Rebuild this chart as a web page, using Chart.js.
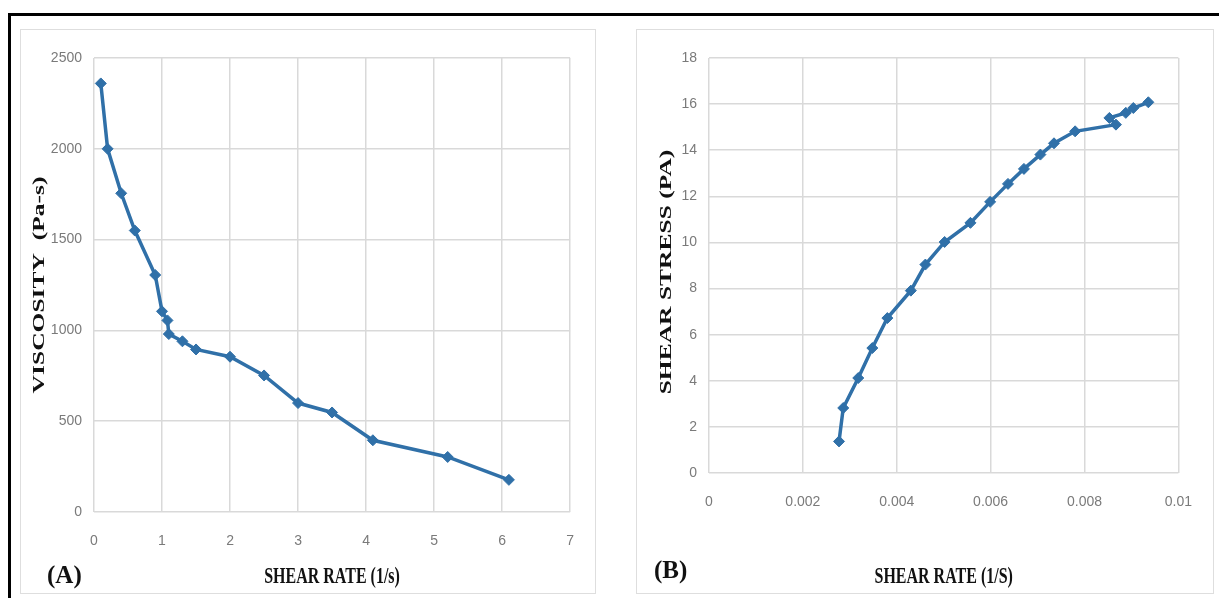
<!DOCTYPE html>
<html>
<head>
<meta charset="utf-8">
<script src="https://cdn.jsdelivr.net/npm/chart.js@4.4.1/dist/chart.umd.min.js"></script>
<style>
  html, body { margin: 0; padding: 0; background: #fff; }
  body { width: 1219px; height: 598px; position: relative; overflow: hidden; }
  .frame-top { position: absolute; left: 8px; top: 13px; width: 1211px; height: 3px; background: #000; }
  .frame-left { position: absolute; left: 8px; top: 13px; width: 3px; height: 585px; background: #000; }
  .panel { position: absolute; top: 29px; height: 565px; border: 1px solid #dedede; box-sizing: border-box; }
  canvas { position: absolute; top: 29px; }
</style>
</head>
<body>
<div class="frame-top"></div>
<div class="frame-left"></div>
<div class="panel" style="left:20px;width:576px"></div>
<div class="panel" style="left:636px;width:578px"></div>
<canvas id="chartA" width="575" height="564" style="left:20px"></canvas>
<canvas id="chartB" width="577" height="564" style="left:636px"></canvas>
<script>
// (A) viscosity vs shear rate
const shearRateA = [0.1, 0.2, 0.4, 0.6, 0.9, 1.0, 1.08, 1.1, 1.3, 1.5, 2, 2.5, 3, 3.5, 4.1, 5.2, 6.1];
const viscosityA = [2360, 2000, 1755, 1550, 1305, 1105, 1055, 980, 940, 895, 855, 752, 600, 548, 395, 303, 177];
const xTicksA = ['0', '1', '2', '3', '4', '5', '6', '7'];
const yTicksA = ['0', '500', '1000', '1500', '2000', '2500'];

// (B) shear stress vs shear rate
const shearRateB = [0.00277, 0.00286, 0.00318, 0.00348, 0.0038, 0.0043, 0.00461, 0.00502, 0.00557, 0.00599,
                    0.00637, 0.00671, 0.00706, 0.00735, 0.0078, 0.00867, 0.00853, 0.00888, 0.00904, 0.00936];
const stressB = [1.37, 2.82, 4.12, 5.42, 6.72, 7.91, 9.04, 10.02, 10.85, 11.76,
                 12.54, 13.19, 13.81, 14.3, 14.82, 15.11, 15.4, 15.62, 15.83, 16.08];
const xTicksB = ['0', '0.002', '0.004', '0.006', '0.008', '0.01'];
const yTicksB = ['0', '2', '4', '6', '8', '10', '12', '14', '16', '18'];

const lineBlue = '#3070a8';
const gridGrey = '#d9d9d9';
const tickFont = { family: "'Liberation Sans', Arial, sans-serif", size: 14 };

// axis titles look squashed in the original, so draw them by hand
const titlePlugin = {
  id: 'titles',
  afterDraw(chart, args, o) {
    const ctx = chart.ctx, a = chart.chartArea;
    ctx.save();
    ctx.fillStyle = '#111';
    ctx.textAlign = 'center';
    ctx.textBaseline = 'middle';

    ctx.font = 'bold 16px "Liberation Serif", serif';
    ctx.save();
    ctx.translate((a.left + a.right) / 2, o.xTitleY);
    ctx.scale(1, 1.5);
    ctx.fillText(o.xTitle, 0, 0);
    ctx.restore();

    ctx.font = 'bold 17px "Liberation Serif", serif';
    ctx.save();
    ctx.translate(o.yTitleX, o.yTitleY);
    ctx.rotate(-Math.PI / 2);
    ctx.scale(1.5, 1);
    ctx.fillText(o.yTitle, 0, 0);
    ctx.restore();

    ctx.font = 'bold 25px "Liberation Serif", serif';
    ctx.textAlign = 'left';
    ctx.textBaseline = 'alphabetic';
    ctx.fillText(o.tag, o.tagX, o.tagY);
    ctx.restore();
  }
};

function axis(ticks, size, isX) {
  return {
    type: 'linear',
    min: +ticks[0],
    max: +ticks[ticks.length - 1],
    afterBuildTicks: s => { s.ticks = ticks.map(v => ({ value: +v })); },
    afterFit: s => { if (isX) s.height = size; else s.width = size; },
    grid: { color: gridGrey, lineWidth: 1.5, drawTicks: false },
    border: { display: false },
    ticks: {
      font: tickFont,
      color: '#7a7a7a',
      padding: isX ? 21 : 12,
      callback: (v, i) => ticks[i]
    }
  };
}

function makeChart(id, xs, ys, xTicks, yTicks, box, titles) {
  return new Chart(document.getElementById(id), {
    type: 'scatter',
    data: {
      datasets: [{
        data: xs.map((x, i) => ({ x: x, y: ys[i] })),
        showLine: true,
        borderColor: lineBlue,
        backgroundColor: lineBlue,
        borderWidth: 3.5,
        pointStyle: 'rectRot',
        pointRadius: 5.5,
        pointBorderWidth: 1
      }]
    },
    options: {
      responsive: false,
      animation: false,
      layout: { padding: { top: box.top, right: box.right, left: 0, bottom: 0 } },
      plugins: { legend: { display: false }, tooltip: { enabled: false }, titles: titles },
      scales: {
        x: axis(xTicks, box.bottom, true),
        y: axis(yTicks, box.left, false)
      }
    },
    plugins: [titlePlugin]
  });
}

makeChart('chartA', shearRateA, viscosityA, xTicksA, yTicksA,
  { top: 29, right: 21, bottom: 81, left: 74 },
  { xTitle: 'SHEAR RATE (1/s)', xTitleY: 548, yTitle: 'VISCOSITY  (Pa-s)', yTitleX: 20, yTitleY: 256,
    tag: '(A)', tagX: 27, tagY: 554 });

makeChart('chartB', shearRateB, stressB, xTicksB, yTicksB,
  { top: 29, right: 29, bottom: 120, left: 73 },
  { xTitle: 'SHEAR RATE (1/S)', xTitleY: 548, yTitle: 'SHEAR STRESS (PA)', yTitleX: 31, yTitleY: 243,
    tag: '(B)', tagX: 18, tagY: 549 });
</script>
</body>
</html>
